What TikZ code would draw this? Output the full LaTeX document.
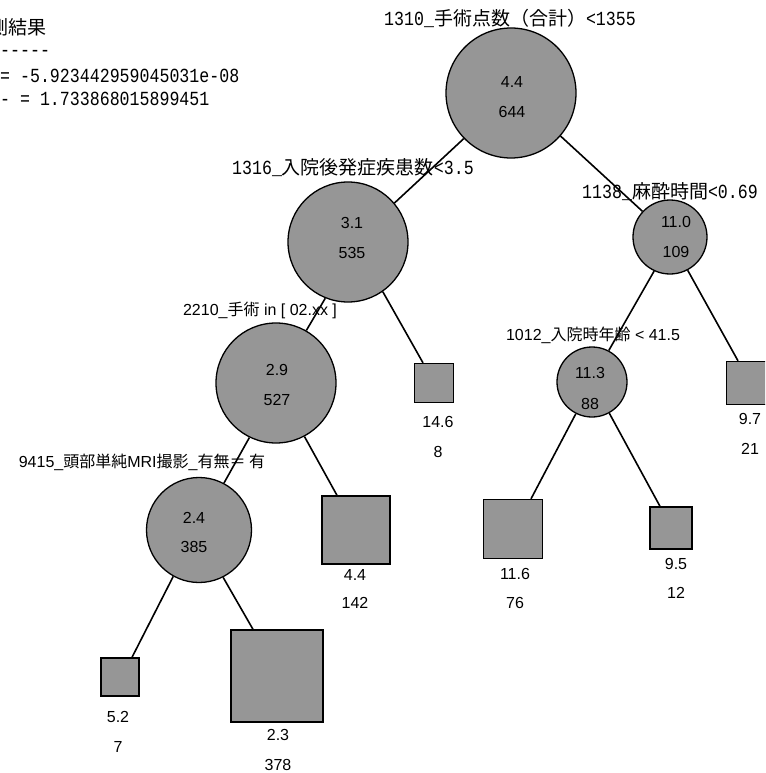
\documentclass[tikz,border=0pt]{standalone}
\usepackage{fontspec}
\setmainfont{Liberation Sans}
\newfontfamily\jp{Noto Sans CJK JP}
\newfontfamily\gm{Liberation Mono}[FakeStretch=0.83]
\usetikzlibrary{calc}
\definecolor{nodegray}{RGB}{150,150,150}
\newcommand\gl[1]{{\gm #1}}
\newcommand\gj[1]{{\jp\fontsize{19}{19}\selectfont #1}}
\newcommand\sj[1]{{\jp #1}}
\begin{document}
\begin{tikzpicture}[x=1pt,y=-1pt,
  splitnode/.style={circle,draw=black,line width=1.3pt,fill=nodegray,inner sep=0pt},
  leafbox/.style={rectangle,draw=black,line width=1.3pt,fill=nodegray,inner sep=0pt},
  edge/.style={line width=1.6pt},
  num/.style={font=\fontsize{16}{16}\selectfont,inner sep=0pt},
  gothic/.style={font=\fontsize{20}{20}\selectfont,inner sep=0pt},
  sanslabel/.style={font=\fontsize{16}{16}\selectfont,inner sep=0pt}]
\useasboundingbox (0,0) rectangle (765,773);
\clip (0,0) rectangle (765,773);

% header text
\node[gothic,anchor=east] (h1) at (47,27) {\gj{測結果}};
\node[gothic,anchor=west] (h2) at (0,53) {\gl{-----}};
\node[gothic,anchor=west] (h3) at (0,76) {\gl{= -5.923442959045031e-08}};
\node[gothic,anchor=west] (h4) at (0,99) {\gl{- = 1.733868015899451}};

% split nodes
\node[splitnode,minimum size=130pt] (root) at (511,93) {};
\node[splitnode,minimum size=120pt] (n2) at (348,242) {};
\node[splitnode,minimum size=74pt] (n3) at (670,237) {};
\node[splitnode,minimum size=120pt] (n4) at (276,383) {};
\node[splitnode,minimum size=105pt] (n5) at (199,530) {};
\node[splitnode,minimum size=70pt] (n6) at (592,382) {};

% leaves
\node[leafbox,minimum size=39pt] (l146) at (434,383) {};
\node[leafbox,minimum size=68pt] (l44) at (356,530) {};
\node[leafbox,minimum size=38pt] (l52) at (120,677) {};
\node[leafbox,minimum size=92pt] (l23) at (277,676) {};
\node[leafbox,minimum size=43pt] (l97) at (748,383) {};
\node[leafbox,minimum size=59pt] (l116) at (513,529) {};
\node[leafbox,minimum size=42pt] (l95) at (671,528) {};

% edges
\draw[edge] (root.224) -- (n2.40);
\draw[edge] (root.-41) -- (n3.137);
\draw[edge] (n2.248) -- (n4.60);
\draw[edge] (n2.305) -- ($(l146.north)+(-11,0)$);
\draw[edge] (n4.244) -- (n5.62);
\draw[edge] (n4.298) -- ($(l44.north)+(-19,0)$);
\draw[edge] (n5.241) -- ($(l52.north)+(12,0)$);
\draw[edge] (n5.297) -- ($(l23.north)+(-24,0)$);
\draw[edge] (n3.245) -- (n6.62);
\draw[edge] (n3.298) -- ($(l97.north)+(-10,0)$);
\draw[edge] (n6.243) -- ($(l116.north)+(18,0)$);
\draw[edge] (n6.299) -- ($(l95.north)+(-11,0)$);

% split labels
\node[gothic] (lb1) at (510,18) {\gl{1310\_}\gj{手術点数（合計）}\gl{<1355}};
\node[gothic] (lb2) at (353,168) {\gl{1316\_}\gj{入院後発症疾患数}\gl{<3.5}};
\node[gothic] (lb3) at (670,192) {\gl{1138\_}\gj{麻酔時間}\gl{<0.69}};
\node[sanslabel] (lb4) at (260,310) {2210\_\sj{手術} in [ 02.xx ]};
\node[sanslabel] (lb5) at (142,462) {9415\_\sj{頭部単純}MRI\sj{撮影}\_\sj{有無＝ 有}};
\node[sanslabel] (lb6) at (593,335) {1012\_\sj{入院時年齢} < 41.5};

% values in split nodes
\node[num] (v1a) at (512,82) {4.4};
\node[num] (v1b) at (512,112) {644};
\node[num] (v2a) at (352,223) {3.1};
\node[num] (v2b) at (352,253) {535};
\node[num] (v3a) at (676,222) {11.0};
\node[num] (v3b) at (676,252) {109};
\node[num] (v4a) at (277,370) {2.9};
\node[num] (v4b) at (277,400) {527};
\node[num] (v5a) at (194,518) {2.4};
\node[num] (v5b) at (194,547) {385};
\node[num] (v6a) at (590,373) {11.3};
\node[num] (v6b) at (590,404) {88};

% values under leaves
\node[num] (w1a) at (438,422) {14.6};
\node[num] (w1b) at (438,452) {8};
\node[num] (w2a) at (355,575) {4.4};
\node[num] (w2b) at (355,603) {142};
\node[num] (w3a) at (118,717) {5.2};
\node[num] (w3b) at (118,747) {7};
\node[num] (w4a) at (278,735) {2.3};
\node[num] (w4b) at (278,765) {378};
\node[num] (w5a) at (750,419) {9.7};
\node[num] (w5b) at (750,449) {21};
\node[num] (w6a) at (515,574) {11.6};
\node[num] (w6b) at (515,603) {76};
\node[num] (w7a) at (676,564) {9.5};
\node[num] (w7b) at (676,593) {12};
\end{tikzpicture}
\end{document}
